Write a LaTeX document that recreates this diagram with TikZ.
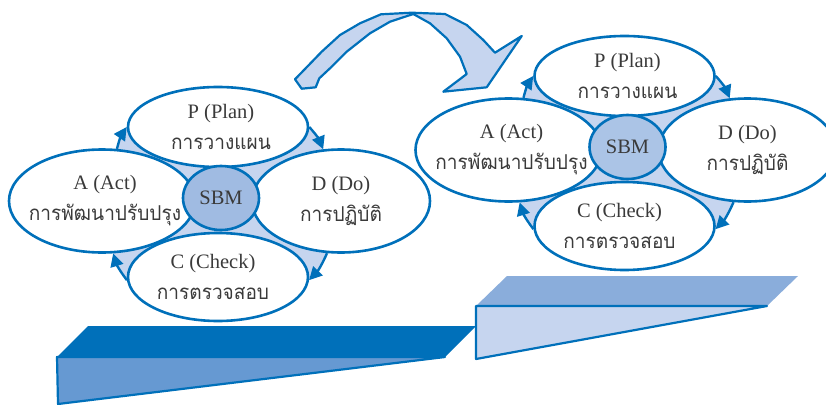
\documentclass[tikz,border=0pt]{standalone}
\usepackage{fontspec}
\setmainfont{Liberation Serif}
\newfontfamily\thaifont[Script=Thai,FakeStretch=0.93]{Loma}
\usetikzlibrary{shapes.geometric,arrows.meta,backgrounds}
\definecolor{edgeblue}{HTML}{0070BA}
\definecolor{lightfill}{HTML}{C6D5EF}
\definecolor{midfill}{HTML}{6699D2}
\definecolor{topfill}{HTML}{8AADDB}
\definecolor{hubleft}{HTML}{A0BBE2}
\definecolor{hubright}{HTML}{ABC4E6}
\definecolor{inktext}{HTML}{3A3A3A}
\newcommand{\phasetext}[3]{\kern#1pt #2\kern-#1pt\\[7pt]\kern#1pt{\thaifont #3}\kern-#1pt}
\newcommand{\phaseback}[3]{\kern-#1pt #2\kern#1pt\\[7pt]\kern-#1pt{\thaifont #3}\kern#1pt}
\tikzset{
  x=1pt,y=-1pt,
  petal/.style={ellipse,draw=edgeblue,fill=white,line width=2.6pt,inner xsep=-35pt,inner ysep=-12pt,align=center,text=inktext,font=\fontsize{20.5}{24}\selectfont},
  hub/.style={ellipse,draw=edgeblue,line width=2.6pt,inner sep=0pt,text=inktext,font=\fontsize{20.5}{24}\selectfont,minimum width=76pt,minimum height=64pt},
  flow/.style={draw=edgeblue,line width=2.4pt,-{Triangle[length=13pt,width=13pt]}},
  solid edge/.style={draw=edgeblue,line width=2.2pt,line join=round}
}
\newcommand{\pdcacluster}[4]{%
\node[petal,shift={(#2,#3)},minimum width=186pt,minimum height=103pt] (#1A) at (102,201) {\phasetext{3}{A (Act)}{การพัฒนาปรับปรุง}};
\node[petal,shift={(#2,#3)},minimum width=178pt,minimum height=103pt] (#1D) at (341,201) {\phasetext{0}{D (Do)}{การปฏิบัติ}};
\node[petal,shift={(#2,#3)},minimum width=180pt,minimum height=80pt] (#1P) at (218,127) {\phasetext{3}{P (Plan)}{การวางแผน}};
\node[petal,shift={(#2,#3)},minimum width=180pt,minimum height=88pt] (#1C) at (218,277) {\phaseback{5}{C (Check)}{การตรวจสอบ}};
\node[hub,shift={(#2,#3)},fill=#4] (#1S) at (221,198) {SBM};
\begin{pgfonlayer}{background}
\fill[lightfill] (#1A.74) to[bend left=10] (#1P.180) -- (#1P.0) to[bend left=10] (#1D.109) -- (#1D.255) to[bend left=10] (#1C.-2) -- (#1C.182) to[bend left=10] (#1A.282) -- cycle;
\draw[flow] (#1A.74) to[bend left=10] (#1P.180);
\draw[flow] (#1P.0) to[bend left=10] (#1D.109);
\draw[flow] (#1D.255) to[bend left=10] (#1C.-2);
\draw[flow] (#1C.182) to[bend left=10] (#1A.282);
\end{pgfonlayer}}
\begin{document}
\begin{tikzpicture}
\useasboundingbox (0,0) rectangle (826,404);
% steps
\fill[topfill] (476,306) -- (507,276) -- (798,276) -- (767,306) -- cycle;
\path[solid edge,fill=lightfill] (476,306) -- (767,306) -- (476,359) -- cycle;
\path[solid edge,fill=midfill] (57,357) -- (445,357) -- (58,404) -- cycle;
\fill[edgeblue] (57,357) -- (88,326) -- (476,326) -- (445,357) -- cycle;
% clusters
\pdcacluster{l}{0}{0}{hubleft}
\pdcacluster{r}{406.5}{-51}{hubright}
% big arrow
\path[solid edge,fill=lightfill] (295,79.3) -- (321.7,51.7) -- (340,35) -- (360,23.3) -- (381,14.3) -- (411.7,12.7) -- (445,14) -- (466.7,25) -- (483.3,40) -- (495,52.7) -- (521.7,36) -- (486.7,87.3) -- (443.3,91.7) -- (466.7,74) -- (460,56.7) -- (446.7,38.3) -- (430,23.3) -- (413.3,14) -- (390,21.7) -- (370,33.3) -- (346.7,51.7) -- (330,68.3) -- (319.3,78.3) -- (315.7,87.3) -- (301.7,88.7) -- cycle;
\end{tikzpicture}
\end{document}
